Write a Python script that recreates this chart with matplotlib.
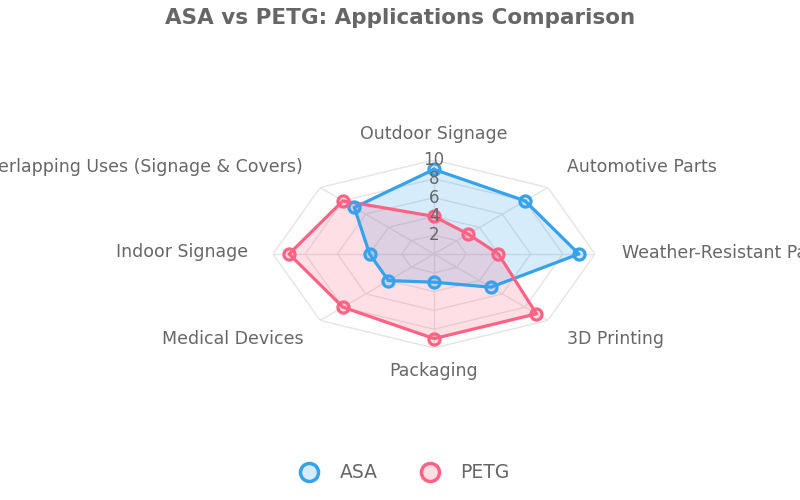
import numpy as np
import matplotlib
matplotlib.use('Agg')
import matplotlib.pyplot as plt
from matplotlib.lines import Line2D

categories = ['Outdoor Signage', 'Automotive Parts', 'Weather-Resistant Parts',
              '3D Printing', 'Packaging', 'Medical Devices', 'Indoor Signage',
              'Overlapping Uses (Signage & Covers)']
asa = [9, 8, 9, 5, 3, 4, 4, 7]
petg = [4, 3, 4, 9, 9, 8, 9, 8]
ticks = [2, 4, 6, 8, 10]

ASA_C = '#36A2EB'
PETG_C = '#FF6384'
TXT = '#666666'
GRID = '#e4e4e4'

plt.rcParams['font.family'] = ['DejaVu Sans']

fig = plt.figure(figsize=(8, 5), dpi=100)
# radar centre at about (434, 254) px, radius 161 px wide / 94 px tall
ax = fig.add_axes([273 / 800, (500 - 254 - 94) / 500, 322 / 800, 188 / 500],
                  projection='polar')
ax.set_aspect('auto')
ax.set_theta_zero_location('N')
ax.set_theta_direction(-1)
ax.set_ylim(0, 10)
ax.set_xticks([])
ax.set_yticks([])
ax.grid(False)
ax.spines['polar'].set_visible(False)
ax.patch.set_visible(False)

n = len(categories)
theta = np.linspace(0, 2 * np.pi, n, endpoint=False)
closed = np.append(theta, theta[0])

# polygon grid
for r in ticks:
    ax.plot(closed, [r] * (n + 1), color=GRID, lw=1, zorder=1)
for t in theta:
    ax.plot([t, t], [0, 10], color=GRID, lw=1, zorder=1)

for vals, c in [(asa, ASA_C), (petg, PETG_C)]:
    v = np.append(vals, vals[0])
    ax.fill(closed, v, color=c, alpha=0.2, lw=0, zorder=2)
    ax.plot(closed, v, color=c, lw=2.3, zorder=3)
    ax.plot(theta, vals, 'o', ms=8, mfc=matplotlib.colors.to_rgba(c, 0.2),
            mec=c, mew=2.3, zorder=4, clip_on=False)

for r in ticks:
    ax.text(0, r, str(r), ha='center', va='center', color=TXT, fontsize=12, zorder=5)

# point labels: pixel offsets from the outer vertex
offsets = [(0, 26, 'center'), (19, 21, 'left'), (27, 1, 'left'), (19, -19, 'left'),
           (0, -23, 'center'), (-17, -19, 'right'), (-25, 2, 'right'), (-17, 21, 'right')]
for t, lab, (dx, dy, ha) in zip(theta, categories, offsets):
    ax.annotate(lab, xy=(t, 10), xytext=(dx, dy), textcoords='offset pixels',
                ha=ha, va='center', color=TXT, fontsize=12.5, annotation_clip=False)

fig.text(0.5, 1 - 18 / 500, 'ASA vs PETG: Applications Comparison', ha='center',
         va='center', color=TXT, fontsize=15.5, fontweight='bold')

handles = [Line2D([], [], ls='none', marker='o', ms=13, mew=2.5, mec=c,
                  mfc=matplotlib.colors.to_rgba(c, 0.2)) for c in (ASA_C, PETG_C)]
leg = fig.legend(handles, ['ASA', 'PETG'], loc='center', bbox_to_anchor=(0.5, 27 / 500),
                 ncol=2, frameon=False, fontsize=13.5, handletextpad=0.6, columnspacing=1.8)
for tx in leg.get_texts():
    tx.set_color(TXT)

fig.savefig('out.png', dpi=100)
